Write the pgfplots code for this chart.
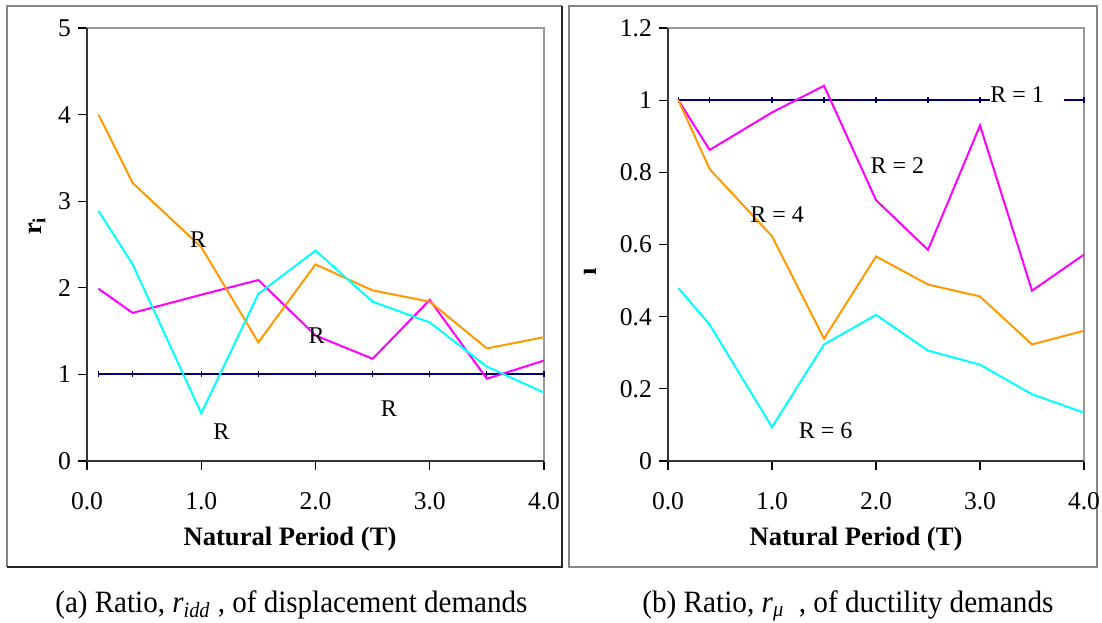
\documentclass[border=0pt]{standalone}
\usepackage{pgfplots}
\pgfplotsset{compat=1.18}
\usepackage{fontspec}
\setmainfont{Liberation Serif}
\usepackage{graphicx}
\definecolor{cOrange}{HTML}{FF9900}
\definecolor{cMag}{HTML}{FF00FF}
\definecolor{cCyan}{HTML}{00FFFF}
\definecolor{cNavy}{HTML}{000080}
\definecolor{frameGray}{HTML}{858585}
\definecolor{boxGray}{HTML}{999999}

\tikzset{lbl/.style={font=\fontsize{12}{14}\selectfont}}
\pgfplotsset{
  myaxis/.style={
    scale only axis, anchor=south west,
    xmin=0, xmax=4, xtick={0,1,2,3,4},
    tick align=outside, tick pos=left,
    major tick length=4.5pt,
    tick style={black, line width=0.6pt},
    axis line style={draw=boxGray, line width=0.9pt},
    /pgf/number format/assume math mode=true,
    tick label style={font=\fontsize{12.8}{14}\selectfont},
    x tick label style={yshift=-7.5pt, /pgf/number format/.cd, fixed, fixed zerofill, precision=1, /tikz/.cd},
    y tick label style={/pgf/number format/.cd, fixed, precision=1, /tikz/.cd},
    clip=false, clip mode=individual,
  },
}

\begin{document}
\begin{tikzpicture}
\path[use as bounding box] (0,0) rectangle (551pt,311pt);

% frames
\draw[frameGray, line width=0.8pt] (3.5pt,27.5pt) -- (3.5pt,308pt) -- (281pt,308pt);
\draw[black!85, line width=0.8pt] (281pt,308pt) -- (281pt,27.5pt) -- (3.5pt,27.5pt);
\draw[frameGray, line width=0.8pt] (284.5pt,27.5pt) rectangle (548.5pt,308pt);

% ---------------- left panel ----------------
\begin{axis}[myaxis, at={(43.5pt,80.5pt)}, width=228.5pt, height=216.5pt,
  ymin=0, ymax=5, ytick={0,1,2,3,4,5}]
\addplot[cNavy, line width=1pt, mark=|, mark size=1.5pt, mark options={line width=0.6pt}] coordinates {
 (0.1,1) (0.4,1) (1.0,1) (1.5,1) (2.0,1) (2.5,1) (3.0,1) (3.5,1) (4.0,1)};
\addplot[cMag, line width=1pt] coordinates {
 (0.1,1.99) (0.4,1.71) (1.0,1.92) (1.5,2.09) (2.0,1.45) (2.5,1.18) (3.0,1.86) (3.5,0.95) (4.0,1.16)};
\addplot[cOrange, line width=1pt] coordinates {
 (0.1,4.00) (0.4,3.21) (1.0,2.47) (1.5,1.37) (2.0,2.27) (2.5,1.97) (3.0,1.84) (3.5,1.30) (4.0,1.43)};
\addplot[cCyan, line width=1pt] coordinates {
 (0.1,2.89) (0.4,2.27) (1.0,0.55) (1.5,1.93) (2.0,2.43) (2.5,1.84) (3.0,1.60) (3.5,1.09) (4.0,0.79)};
\draw[black!80, line width=0.7pt] (rel axis cs:0,1) -- (rel axis cs:0,0) -- (rel axis cs:1,0);
\node[lbl] at (axis cs:0.973,2.56) {R};
\node[lbl] at (axis cs:2.01,1.447) {R};
\node[lbl] at (axis cs:1.176,0.336) {R};
\node[lbl] at (axis cs:2.643,0.608) {R};
\end{axis}

% ---------------- right panel ----------------
\begin{axis}[myaxis, at={(334pt,80.5pt)}, width=208pt, height=216.5pt,
  ymin=0, ymax=1.2, ytick={0,0.2,0.4,0.6,0.8,1,1.2}]
\addplot[cNavy, line width=1pt, mark=|, mark size=1.5pt, mark options={line width=0.6pt}] coordinates {
 (0.1,1) (0.4,1) (1.0,1) (1.5,1) (2.0,1) (2.5,1) (3.0,1) (3.5,1) (4.0,1)};
\addplot[cMag, line width=1pt] coordinates {
 (0.1,1.0) (0.4,0.862) (1.0,0.966) (1.5,1.04) (2.0,0.723) (2.5,0.585) (3.0,0.93) (3.5,0.472) (4.0,0.572)};
\addplot[cOrange, line width=1pt] coordinates {
 (0.1,1.0) (0.4,0.809) (1.0,0.623) (1.5,0.339) (2.0,0.567) (2.5,0.489) (3.0,0.456) (3.5,0.323) (4.0,0.361)};
\addplot[cCyan, line width=1pt] coordinates {
 (0.1,0.479) (0.4,0.378) (1.0,0.094) (1.5,0.323) (2.0,0.405) (2.5,0.306) (3.0,0.267) (3.5,0.185) (4.0,0.134)};
\draw[black!80, line width=0.7pt] (rel axis cs:0,1) -- (rel axis cs:0,0) -- (rel axis cs:1,0);
\node[lbl, anchor=west, fill=white, inner xsep=0pt, inner ysep=3pt] at (axis cs:3.096,1.0145) {R = 1\hspace*{10pt}};
\node[lbl] at (axis cs:2.206,0.819) {R = 2};
\node[lbl] at (axis cs:1.05,0.684) {R = 4};
\node[lbl] at (axis cs:1.515,0.0837) {R = 6};
\end{axis}

% axis labels
\node[font=\fontsize{13.3}{15}\selectfont\bfseries] at (145pt,41.5pt) {Natural Period (T)};
\node[font=\fontsize{13.3}{15}\selectfont\bfseries] at (428pt,41.5pt) {Natural Period (T)};
\node[font=\fontsize{13.3}{15}\selectfont\bfseries, rotate=90] at (18.5pt,198pt) {r\textsubscript{i}};
\node[font=\fontsize{13.3}{15}\selectfont\bfseries, rotate=90] at (295pt,175pt) {ı};

% captions
\node[anchor=base west, inner sep=0pt] at (27.5pt,5pt) {\resizebox{236pt}{\height}{\fontsize{15.5}{17}\selectfont (a) Ratio, \textit{r}\textsubscript{\textit{idd}} , of displacement demands}};
\node[anchor=base west, inner sep=0pt] at (321pt,5pt) {\resizebox{205.5pt}{\height}{\fontsize{15.5}{17}\selectfont (b) Ratio, \textit{r}\textsubscript{\textit{μ}}\ \ , of ductility demands}};
\end{tikzpicture}
\end{document}
